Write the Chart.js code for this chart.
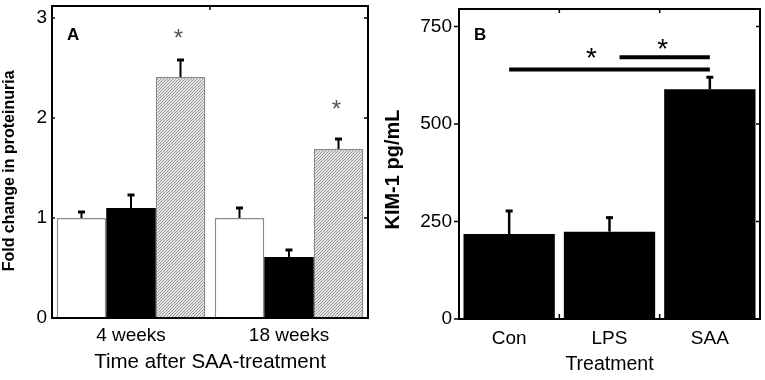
<!DOCTYPE html>
<html>
<head>
<meta charset="utf-8">
<script src="https://cdn.jsdelivr.net/npm/chart.js@4.4.1/dist/chart.umd.min.js"></script>
<style>
  body { margin: 0; background: #fff; }
  #wrapA { position: absolute; left: 0; top: 0; width: 380px; height: 380px; }
  #wrapB { position: absolute; left: 380px; top: 0; width: 385px; height: 380px; }
</style>
</head>
<body>
<div id="wrapA"><canvas id="chartA" width="380" height="380"></canvas></div>
<div id="wrapB"><canvas id="chartB" width="385" height="380"></canvas></div>
<script>
// Panel A - fold change in proteinuria
const weeks = ["4 weeks", "18 weeks"];
const ctrlFold = [1.0, 1.0];
const ctrlErr = [1.06, 1.10];
const lpsFold = [1.10, 0.61];
const lpsErr = [1.23, 0.68];
const saaFold = [2.41, 1.69];
const saaErr = [2.58, 1.79];
const starsA = [2.86, 2.15]; // asterisk heights above SAA bars
const ticksA = [0, 1, 2, 3];

// Panel B - KIM-1
const treatments = ["Con", "LPS", "SAA"];
const kim1 = [218, 224, 589];
const kim1Err = [277, 260, 620];
const ticksB = [0, 250, 500, 750];
// significance bars: [from category, to category, value]
const sigLines = [[0, 2, 640], [1.1, 2, 671]];
// asterisks: [category position, value]
const starsB = [[0.82, 686], [1.53, 709]];

// hatch pattern for SAA bars
function hatch() {
  const c = document.createElement("canvas");
  c.width = 3;
  c.height = 3;
  const g = c.getContext("2d");
  g.fillStyle = "#e6e6e6";
  g.fillRect(0, 0, 3, 3);
  g.strokeStyle = "#8a8a8a";
  g.lineWidth = 0.9;
  g.beginPath();
  g.moveTo(-1, 4);
  g.lineTo(4, -1);
  g.stroke();
  return g.createPattern(c, "repeat");
}

// upper error bars from dataset.errorTop
const errorBars = {
  id: "errorBars",
  afterDatasetsDraw(chart, args, o) {
    const ctx = chart.ctx;
    const y = chart.scales.y;
    chart.data.datasets.forEach((ds, i) => {
      if (!ds.errorTop) return;
      chart.getDatasetMeta(i).data.forEach((bar, j) => {
        const yt = y.getPixelForValue(ds.errorTop[j]);
        ctx.save();
        ctx.strokeStyle = "#000";
        ctx.lineWidth = o.stem;
        ctx.beginPath();
        ctx.moveTo(bar.x, bar.y);
        ctx.lineTo(bar.x, yt);
        ctx.stroke();
        ctx.lineWidth = o.capW;
        ctx.beginPath();
        ctx.moveTo(bar.x - o.cap, yt);
        ctx.lineTo(bar.x + o.cap, yt);
        ctx.stroke();
        ctx.restore();
      });
    });
  },
};

// box frame + small tick marks
const frame = {
  id: "frame",
  afterDraw(chart, args, o) {
    const ctx = chart.ctx;
    const a = chart.chartArea;
    const x = chart.scales.x, y = chart.scales.y;
    ctx.save();
    ctx.strokeStyle = "#000";
    ctx.lineWidth = 2;
    ctx.strokeRect(a.left, a.top, a.right - a.left, a.bottom - a.top);
    ctx.lineWidth = 1.5;
    ctx.beginPath();
    o.yTicks.forEach((v) => {
      const py = y.getPixelForValue(v);
      ctx.moveTo(a.left + o.leftIn, py);
      ctx.lineTo(a.left - o.leftOut, py);
      ctx.moveTo(a.right, py);
      ctx.lineTo(a.right - 4, py);
    });
    o.xTicks.forEach((v) => {
      const px = x.getPixelForValue(v);
      ctx.moveTo(px, a.top);
      ctx.lineTo(px, a.top + 4);
      if (o.bottom) {
        ctx.moveTo(px, a.bottom);
        ctx.lineTo(px, a.bottom - 5);
      }
    });
    ctx.stroke();
    // panel letter
    ctx.fillStyle = "#000";
    ctx.font = "bold 17px Arial, 'Liberation Sans'";
    ctx.textBaseline = "alphabetic";
    ctx.fillText(o.letter, a.left + o.letterDx, 40);
    ctx.restore();
  },
};

function star(ctx, px, py, size, color) {
  ctx.save();
  ctx.fillStyle = color;
  ctx.font = size + "px Arial, 'Liberation Sans'";
  ctx.textAlign = "center";
  ctx.textBaseline = "alphabetic";
  ctx.fillText("*", px, py + size * 0.57);
  ctx.restore();
}

const starsPluginA = {
  id: "starsA",
  afterDatasetsDraw(chart) {
    const meta = chart.getDatasetMeta(2);
    const y = chart.scales.y;
    meta.data.forEach((bar, j) => {
      star(chart.ctx, bar.x - 2, y.getPixelForValue(starsA[j]), 24, "#555");
    });
  },
};

const sigPluginB = {
  id: "sigB",
  afterDatasetsDraw(chart) {
    const ctx = chart.ctx;
    const x = chart.scales.x, y = chart.scales.y;
    ctx.save();
    ctx.strokeStyle = "#000";
    ctx.lineWidth = 4;
    sigLines.forEach(([a, b, v]) => {
      ctx.beginPath();
      ctx.moveTo(x.getPixelForValue(a), y.getPixelForValue(v));
      ctx.lineTo(x.getPixelForValue(b), y.getPixelForValue(v));
      ctx.stroke();
    });
    ctx.restore();
    starsB.forEach(([c, v]) => {
      star(ctx, x.getPixelForValue(c), y.getPixelForValue(v), 28, "#000");
    });
  },
};

new Chart(document.getElementById("chartA"), {
  type: "bar",
  data: {
    labels: weeks,
    datasets: [
      {
        label: "Control",
        data: ctrlFold,
        errorTop: ctrlErr,
        backgroundColor: "#fff",
        borderColor: "#8a8a8a",
        borderWidth: 1.5,
      },
      {
        label: "LPS",
        data: lpsFold,
        errorTop: lpsErr,
        backgroundColor: "#000",
        borderColor: "#000",
        borderWidth: 0,
      },
      {
        label: "SAA",
        data: saaFold,
        errorTop: saaErr,
        backgroundColor: hatch(),
        borderColor: "#888",
        borderWidth: 1.5,
      },
    ],
  },
  options: {
    responsive: false,
    animation: false,
    categoryPercentage: 0.94,
    barPercentage: 1,
    layout: { padding: { left: 0, right: 12, top: 6, bottom: 0 } },
    plugins: {
      legend: { display: false },
      tooltip: { enabled: false },
      errorBars: { stem: 2, capW: 3, cap: 3.5 },
      frame: { yTicks: ticksA, xTicks: [0.5], leftIn: 3, leftOut: 0, bottom: false, letter: "A", letterDx: 15 },
    },
    scales: {
      x: {
        grid: { display: false, drawTicks: false },
        border: { display: false },
        ticks: { color: "#000", font: { family: "Arial, 'Liberation Sans'", size: 19 }, padding: 6 },
        title: {
          display: true,
          text: "Time after SAA-treatment",
          color: "#000",
          font: { family: "Arial, 'Liberation Sans'", size: 20.5 },
          padding: { top: 0, bottom: 5 },
        },
        afterFit: (s) => {
          s.height = 62;
          s.paddingLeft = 0;
          s.paddingRight = 0;
        },
      },
      y: {
        min: 0,
        max: 3.12,
        grid: { display: false, drawTicks: false },
        border: { display: false },
        afterBuildTicks: (s) => {
          s.ticks = ticksA.map((v) => ({ value: v }));
        },
        ticks: {
          color: "#000",
          font: { family: "'Liberation Sans Narrow', 'Arial Narrow', Arial", size: 19 },
          padding: 5,
        },
        title: {
          display: true,
          text: "Fold change in proteinuria\u00a0\u00a0\u00a0\u00a0",
          color: "#000",
          font: { family: "Arial, 'Liberation Sans'", size: 16, weight: "bold" },
          padding: { top: 0, bottom: 0 },
        },
        afterFit: (s) => {
          s.width = 52;
          s.paddingTop = 0;
          s.paddingBottom = 0;
        },
      },
    },
  },
  plugins: [errorBars, frame, starsPluginA],
});

new Chart(document.getElementById("chartB"), {
  type: "bar",
  data: {
    labels: treatments,
    datasets: [
      {
        label: "KIM-1",
        data: kim1,
        errorTop: kim1Err,
        backgroundColor: "#000",
        borderWidth: 0,
      },
    ],
  },
  options: {
    responsive: false,
    animation: false,
    categoryPercentage: 0.91,
    barPercentage: 1,
    layout: { padding: { left: 0, right: 5, top: 9, bottom: 0 } },
    plugins: {
      legend: { display: false },
      tooltip: { enabled: false },
      errorBars: { stem: 2.5, capW: 3, cap: 3.5 },
      frame: { yTicks: ticksB, xTicks: [0.5, 1.5], leftIn: 0, leftOut: 5, bottom: true, letter: "B", letterDx: 15 },
    },
    scales: {
      x: {
        grid: { display: false, drawTicks: false },
        border: { display: false },
        ticks: { color: "#000", font: { family: "Arial, 'Liberation Sans'", size: 19 }, padding: 8 },
        title: {
          display: true,
          text: "Treatment",
          color: "#000",
          font: { family: "Arial, 'Liberation Sans'", size: 19.5 },
          padding: { top: 0, bottom: 4 },
        },
        afterFit: (s) => {
          s.height = 61;
          s.paddingLeft = 0;
          s.paddingRight = 0;
        },
      },
      y: {
        min: 0,
        max: 795,
        grid: { display: false, drawTicks: false },
        border: { display: false },
        afterBuildTicks: (s) => {
          s.ticks = ticksB.map((v) => ({ value: v }));
        },
        ticks: {
          color: "#000",
          font: { family: "Arial, 'Liberation Sans'", size: 19 },
          padding: 7,
        },
        title: {
          display: true,
          text: "KIM-1 pg/mL\u00a0\u00a0",
          color: "#000",
          font: { family: "Arial, 'Liberation Sans'", size: 20, weight: "bold" },
          padding: { top: 1, bottom: 0 },
        },
        afterFit: (s) => {
          s.width = 79;
          s.paddingTop = 0;
          s.paddingBottom = 0;
        },
      },
    },
  },
  plugins: [errorBars, frame, sigPluginB],
});
</script>
</body>
</html>
